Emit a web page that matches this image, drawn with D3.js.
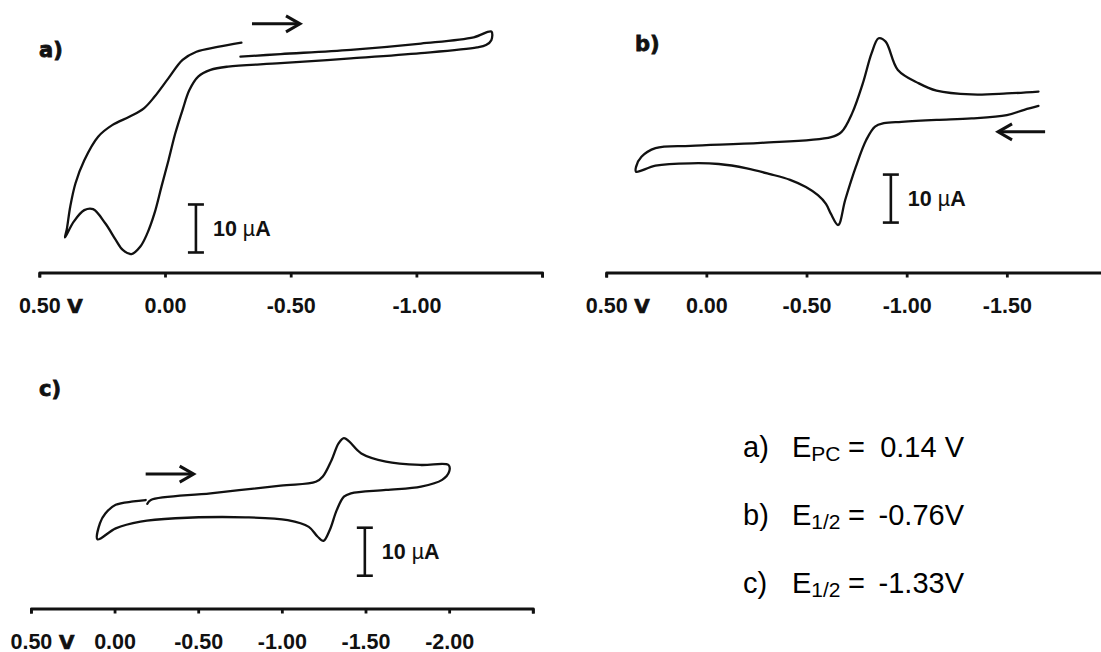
<!DOCTYPE html>
<html><head><meta charset="utf-8">
<script src="https://cdn.jsdelivr.net/npm/d3@7/dist/d3.min.js"></script>
<style>body{margin:0;background:#fff} svg{display:block}</style>
</head><body>
<svg id="chart" width="1101" height="652"></svg>
<script>
// ---------- data (potential in V, current in µA above the axis baseline) ----------
const aPotential = [-0.300,-0.460,-0.739,-1.018,-1.228,-1.298,-1.298,-1.277,-1.241,-1.018,-0.739,-0.460,-0.251,-0.181,-0.132,-0.097,-0.070,-0.041,-0.014,0.014,0.042,0.070,0.098,0.133,0.168,0.196,0.237,0.286,0.321,0.363,0.398,0.391,0.377,0.356,0.321,0.266,0.210,0.140,0.084,0.042,-0.014,-0.070,-0.125,-0.209,-0.304];
const aCurrent   = [44.96,45.5,46.4,47.7,49.0,50.2,48.4,47.4,46.9,45.7,44.6,43.6,42.9,42.2,40.8,38.0,33.9,29.0,23.4,17.9,12.3,8.2,5.4,3.85,4.7,6.8,10.2,13.2,13.0,10.6,7.3,8.9,13.7,18.6,23.4,28.3,30.7,32.5,34.2,36.6,40.5,44.3,46.0,47.0,47.9];

const bPotential = [-1.658,-1.587,-1.500,-1.324,-1.149,-0.974,-0.886,-0.842,-0.798,-0.746,-0.693,-0.658,-0.622,-0.597,-0.557,-0.497,-0.418,-0.318,-0.202,-0.062,0.079,0.254,0.351,0.351,0.324,0.254,0.079,-0.272,-0.623,-0.675,-0.728,-0.781,-0.825,-0.860,-0.895,-0.956,-1.061,-1.149,-1.324,-1.500,-1.658];
const bCurrent   = [34.7,33.9,32.8,32.1,31.8,31.4,31.1,30.4,27.6,22.0,15.1,9.9,12.2,14.3,16.1,17.8,19.3,20.5,21.7,22.6,22.75,22.25,21.0,22.0,24.1,25.9,26.4,27.0,28.2,29.3,33.2,39.4,45.7,48.8,48.1,42.2,39.4,37.9,37.1,37.3,37.7];

const cPotential = [-0.196,-0.217,-0.574,-0.993,-1.203,-1.245,-1.297,-1.339,-1.371,-1.402,-1.475,-1.622,-1.832,-1.996,-2.000,-1.958,-1.832,-1.622,-1.413,-1.371,-1.328,-1.287,-1.249,-1.213,-1.161,-1.035,-0.783,-0.364,-0.155,-0.007,0.102,0.087,0.055,-0.007,-0.112,-0.186];
const cCurrent   = [21.8,22.6,24.0,25.6,26.4,27.5,30.9,34.4,35.5,34.8,32.3,30.6,29.9,29.9,28.5,26.8,25.4,24.7,24.0,23.3,20.5,16.4,14.1,15.0,17.0,18.4,19.0,18.8,18.1,16.7,14.4,17.8,19.8,21.6,22.3,22.6];

const aTicks = [0.5, 0, -0.5, -1.0, -1.5];
const aTickLabels = ["0.50", "0.00", "-0.50", "-1.00", ""];
const bTicks = [0.5, 0, -0.5, -1.0, -1.5];
const bTickLabels = ["0.50", "0.00", "-0.50", "-1.00", "-1.50"];
const cTicks = [0.5, 0, -0.5, -1.0, -1.5, -2.0, -2.5];
const cTickLabels = ["0.50", "0.00", "-0.50", "-1.00", "-1.50", "-2.00", ""];

const scaleBarValue = 10; // µA
const resultLabels = ["a)", "b)", "c)"];
const resultSubs = ["PC", "1/2", "1/2"];
const resultValues = ["0.14 V", "-0.76V", "-1.33V"];

// ---------- layout ----------
const pxPerMicroA = 4.8;
const panels = [
  {V:aPotential, I:aCurrent, domain:[0.5,-1.5], range:[39.3,542.1], axisY:272.5, ticks:aTicks, labels:aTickLabels,
   name:"a)", namePos:[39,57], bar:{V:-0.123, I:4.17}, arrow:{from:-0.346, to:-0.537, I:51.8}},
  {V:bPotential, I:bCurrent, domain:[0.5,-2.0], range:[606.2,1107.0], axisY:272.5, ticks:bTicks, labels:bTickLabels,
   name:"b)", namePos:[635,51], bar:{V:-0.921, I:10.4}, arrow:{from:-1.691, to:-1.456, I:29.3}},
  {V:cPotential, I:cCurrent, domain:[0.5,-2.5], range:[30.9,532.8], axisY:608.5, ticks:cTicks, labels:cTickLabels,
   name:"c)", namePos:[39,396], bar:{V:-1.496, I:6.83}, arrow:{from:-0.186, to:-0.473, I:28.0}}
];

const svg = d3.select("#chart");
const ink = "#111";

panels.forEach(p => {
  const x = d3.scaleLinear().domain(p.domain).range(p.range);
  const y = d3.scaleLinear().domain([0, 60]).range([p.axisY, p.axisY - 60*pxPerMicroA]);
  const g = svg.append("g");

  // axis
  const axis = d3.axisBottom(x).tickValues(p.ticks).tickSize(5).tickSizeOuter(5)
      .tickFormat((d,i) => p.labels[i]);
  const ag = g.append("g").attr("transform", `translate(0,${p.axisY})`).call(axis);
  ag.select(".domain").attr("stroke", ink).attr("stroke-width", 2.8).attr("fill","none").attr("stroke-linejoin","round");
  ag.selectAll(".tick line").attr("stroke", ink).attr("stroke-width", 2.8);
  ag.selectAll(".tick text").attr("y", 40).attr("dy", null)
    .attr("fill", ink).attr("font-family", "Liberation Sans, Arial, sans-serif")
    .attr("font-size", 21.5).attr("font-weight", "bold");
  // "V" unit after 0.50
  g.append("text").attr("x", x(0.5) + 28).attr("y", p.axisY + 40)
    .attr("font-family", "DejaVu Sans, sans-serif").attr("font-weight", "bold")
    .attr("font-size", 20).attr("fill", ink).attr("stroke", ink).attr("stroke-width", 0.7).text("V");

  // curve
  const line = d3.line().x(d => x(d[0])).y(d => y(d[1])).curve(d3.curveCatmullRom.alpha(0.5));
  g.append("path").datum(p.V.map((v,i) => [v, p.I[i]]))
    .attr("d", line).attr("fill", "none").attr("stroke", ink).attr("stroke-width", 2.3)
    .attr("stroke-linejoin", "round").attr("stroke-linecap", "round");

  // panel label
  g.append("text").attr("x", p.namePos[0]).attr("y", p.namePos[1])
    .attr("font-family", "DejaVu Sans, sans-serif").attr("font-weight", "bold")
    .attr("font-size", 21).attr("fill", ink).attr("stroke", ink).attr("stroke-width", 0.8)
    .text(p.name);

  // scale bar
  const bx = x(p.bar.V), by0 = y(p.bar.I), by1 = y(p.bar.I + scaleBarValue);
  const sb = g.append("g").attr("stroke", ink).attr("stroke-width", 2.6);
  sb.append("line").attr("x1", bx).attr("x2", bx).attr("y1", by0).attr("y2", by1);
  sb.append("line").attr("x1", bx-8).attr("x2", bx+8).attr("y1", by0).attr("y2", by0);
  sb.append("line").attr("x1", bx-8).attr("x2", bx+8).attr("y1", by1).attr("y2", by1);
  const st = g.append("text").attr("x", bx + 17).attr("y", (by0+by1)/2 + 7.5)
    .attr("font-family", "Liberation Sans, Arial, sans-serif").attr("font-weight", "bold")
    .attr("font-size", 21.5).attr("fill", ink);
  st.append("tspan").text("10 ");
  st.append("tspan").attr("font-weight", "normal").text("µ");
  st.append("tspan").text("A");

  // scan-direction arrow
  const ax0 = x(p.arrow.from), ax1 = x(p.arrow.to), ay = y(p.arrow.I);
  const dir = Math.sign(ax1 - ax0);
  g.append("line").attr("x1", ax0).attr("x2", ax1 - dir*2).attr("y1", ay).attr("y2", ay)
    .attr("stroke", ink).attr("stroke-width", 3);
  g.append("path").attr("d", `M${ax1 - dir*14},${ay-8} L${ax1},${ay} L${ax1 - dir*14},${ay+8}`)
    .attr("fill","none").attr("stroke", ink).attr("stroke-width", 3).attr("stroke-linejoin","miter");
});

// ---------- result text ----------
const rg = svg.append("g").attr("font-family", "Liberation Sans, Arial, sans-serif").attr("fill", "#000");
resultLabels.forEach((lab, i) => {
  const base = 457 + i*68;
  rg.append("text").attr("x", 743).attr("y", base).attr("font-size", 29).text(lab);
  const t = rg.append("text").attr("x", 792).attr("y", base).attr("font-size", 29);
  t.append("tspan").text("E");
  t.append("tspan").attr("font-size", 21).attr("dy", 4).text(resultSubs[i]);
  rg.append("text").attr("x", 848).attr("y", base).attr("font-size", 29).text("=");
  rg.append("text").attr("x", 964).attr("y", base).attr("font-size", 29)
    .attr("text-anchor", "end").text(resultValues[i]);
});
</script>
</body></html>
